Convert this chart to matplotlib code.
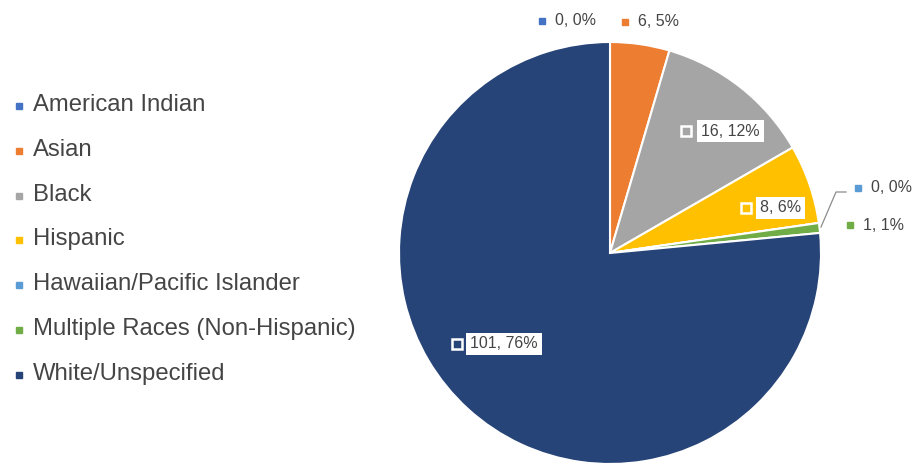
import matplotlib
matplotlib.use("Agg")
import matplotlib.pyplot as plt

plt.rcParams['font.family'] = ['Liberation Sans', 'DejaVu Sans']

# data
categories = ["American Indian", "Asian", "Black", "Hispanic",
              "Hawaiian/Pacific Islander", "Multiple Races (Non-Hispanic)",
              "White/Unspecified"]
counts = [0, 6, 16, 8, 0, 1, 101]
pct_labels = ["0%", "5%", "12%", "6%", "0%", "1%", "76%"]
colors = ["#4472C4", "#ED7D31", "#A5A5A5", "#FFC000",
          "#5B9BD5", "#70AD47", "#264478"]

W, H = 916, 465
TXT = "#454545"


def P(x, y):
    # pixel coords from top-left -> data coords
    return x, H - y


fig = plt.figure(figsize=(W / 100, H / 100), dpi=100)
ax = fig.add_axes([0, 0, 1, 1])

ax.pie(counts, colors=colors, startangle=90, counterclock=False,
       center=P(610, 253), radius=211,
       wedgeprops=dict(edgecolor="white", linewidth=1.5))
ax.set_xlim(0, W)
ax.set_ylim(0, H)
ax.set_aspect("equal")
ax.axis("off")

# legend on the left
for i, (name, c) in enumerate(zip(categories, colors)):
    y = 105 + i * 44.8
    ax.plot(*P(19, y + 1), marker="s", ls="", ms=5, color=c)
    ax.text(*P(33, y), name, fontsize=17.2, color=TXT, va="center", ha="left")

# data labels: (index, marker x, marker y, text x, inside?)
label_pos = [(0, 542, 21, 555, False),
             (1, 625, 22, 638, False),
             (2, 686, 131, 701, True),
             (3, 746, 208, 760, True),
             (4, 858, 188, 871, False),
             (5, 850, 225, 863, False),
             (6, 457, 344, 470, True)]

for i, mx, my, tx, inside in label_pos:
    txt = f"{counts[i]}, {pct_labels[i]}"
    if inside:
        ax.plot(*P(mx, my), marker="s", ls="", ms=7, mfc=colors[i],
                mec="white", mew=1.8)
        ax.text(*P(tx, my), txt, fontsize=11.5, color=TXT, va="center",
                ha="left",
                bbox=dict(boxstyle="square,pad=0.25", fc="white", ec="none"))
    else:
        ax.plot(*P(mx, my), marker="s", ls="", ms=4.5, color=colors[i])
        ax.text(*P(tx, my), txt, fontsize=11.5, color=TXT, va="center",
                ha="left")

# leader line for the Hawaiian label
lx, ly = zip(P(821, 227), P(836, 192), P(846, 192))
ax.plot(lx, ly, color="#8c8c8c", lw=0.9)

fig.savefig("out.png", dpi=100)
